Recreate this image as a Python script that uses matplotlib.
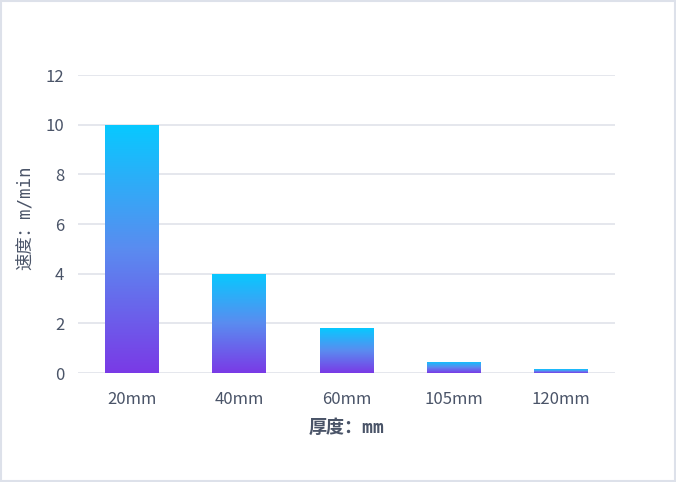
import numpy as np
import matplotlib.pyplot as plt
from matplotlib.colors import LinearSegmentedColormap
from matplotlib.patches import Rectangle

plt.rcParams['font.family'] = ['Noto Sans CJK SC', 'DejaVu Sans']

categories = ["20mm", "40mm", "60mm", "105mm", "120mm"]
speeds = [10, 4, 1.8, 0.45, 0.15]

text_color = "#4a5468"
grid_color = "#e0e3ea"
cmap = LinearSegmentedColormap.from_list("grad", ["#7a3ae6", "#5a8cf0", "#07c9ff"])

fig = plt.figure(figsize=(6.76, 4.82), dpi=100)
ax = fig.add_axes([0.1154, 0.2261, 0.7944, 0.6179])

x = np.arange(len(categories))
bar_w = 0.5
bars = ax.bar(x, speeds, width=bar_w, color="none", zorder=3)

gradient = np.linspace(0, 1, 256).reshape(-1, 1)
for b in bars:
    x0, w, h = b.get_x(), b.get_width(), b.get_height()
    im = ax.imshow(gradient, cmap=cmap, origin="lower", aspect="auto",
                   extent=[x0, x0 + w, 0, h], zorder=3)
    im.set_clip_path(b)

ax.set_xlim(-0.5, len(categories) - 0.5)
ax.set_ylim(0, 12)
ax.set_yticks(np.arange(0, 13, 2))
ax.set_xticks(x)
ax.set_xticklabels(categories)
ax.yaxis.grid(True, color=grid_color, linewidth=1.2, zorder=0)
ax.set_axisbelow(True)
for s in ax.spines.values():
    s.set_visible(False)
ax.tick_params(length=0, labelsize=12, colors=text_color)
ax.tick_params(axis="x", pad=13)
ax.tick_params(axis="y", pad=10)

mono = ['DejaVu Sans Mono', 'Noto Sans CJK SC']
ax.set_xlabel("厚度：mm", fontsize=13, fontweight="bold", color=text_color,
              labelpad=8, family=mono)
ax.set_ylabel("速度：m/min", fontsize=12.5, color=text_color, family=mono)
ax.yaxis.set_label_coords(-0.082, 0.523)

fig.patches.append(Rectangle((0.002, 0.002), 0.996, 0.996, transform=fig.transFigure,
                             fill=False, edgecolor="#dde1ea", linewidth=1.5))

fig.savefig("out.png", dpi=100)
